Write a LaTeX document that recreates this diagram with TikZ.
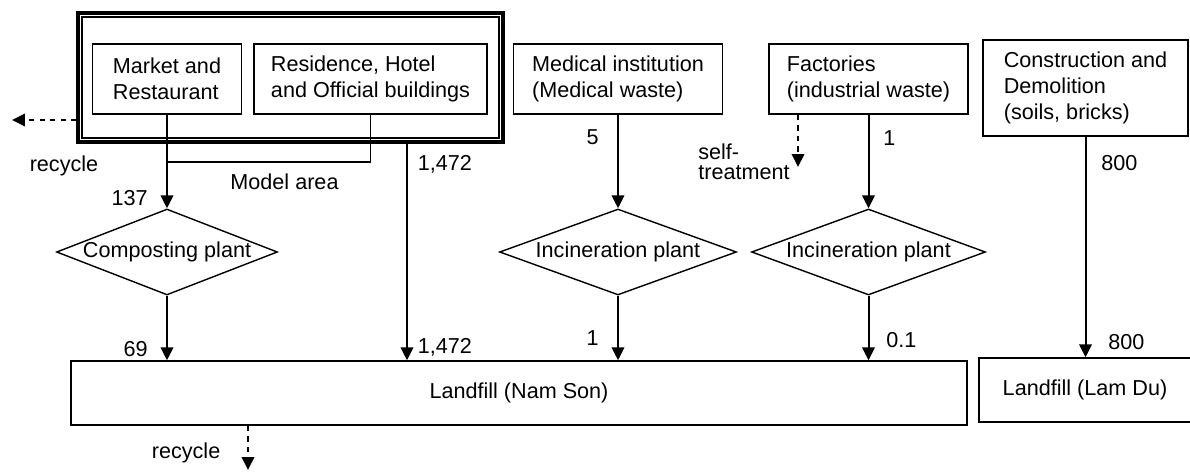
\documentclass[tikz,border=0pt]{standalone}
\usepackage{fontspec}
\setmainfont{Liberation Sans}
\usetikzlibrary{arrows.meta,shapes.geometric}
\begin{document}
\begin{tikzpicture}[x={(0.02cm,0cm)},y={(0cm,-0.02cm)},
        font=\fontsize{12.3}{15}\selectfont,
        >={Triangle[length=0.26cm,width=0.25cm]},
        srcbox/.style={draw,line width=0.8pt,align=left,minimum height=1.4cm},
        sinkbox/.style={draw,line width=0.8pt,minimum height=1.28cm},
        plant/.style={draw,shape=diamond,aspect=2.6,inner sep=0pt,minimum height=1.72cm,line width=0.8pt},
        flow/.style={->,line width=1.15pt},
        dflow/.style={->,dashed,line width=1.1pt},
        num/.style={inner sep=1pt}]
        \useasboundingbox (0,0) rectangle (1190,473);
        \node[draw,line width=1.8pt,minimum width=8.5cm,minimum height=2.58cm] (area) at (290.5,77.5) {};
        \draw[line width=0.7pt] ([shift={(5.5,5.5)}]area.north west) rectangle ([shift={(-5.5,-5.5)}]area.south east);
        \node[srcbox,minimum width=2.98cm] (mkt) at (167,79) {Market and\\Restaurant};
        \node[srcbox,minimum width=4.66cm] (res) at (370.5,79) {Residence, Hotel\\and Official buildings};
        \node[srcbox,minimum width=4.18cm] (med) at (618,79) {Medical institution\\(Medical waste)};
        \node[srcbox,minimum width=3.98cm] (fac) at (868.5,79) {Factories\\(industrial waste)};
        \node[srcbox,minimum width=4.1cm,minimum height=1.92cm] (con) at (1085.5,88) {Construction and\\Demolition\\(soils, bricks)};
        \node[plant,minimum width=4.42cm] (comp) at (167,252) {Composting plant};
        \node[plant,minimum width=4.74cm] (inc1) at (618,252) {Incineration plant};
        \node[plant,minimum width=4.68cm] (inc2) at (868.5,252) {Incineration plant};
        \node[sinkbox,minimum width=17.92cm] (nam) at (519,393) {Landfill (Nam Son)};
        \node[sinkbox,minimum width=4.24cm] (lam) at (1085,390) {Landfill (Lam Du)};
        \node (rcltop) at (64,166) {recycle};
        \node (model) at (284.5,182) {Model area};
        \node[align=left,anchor=west,inner sep=0pt] (selftxt) at (698,162) {self-\\[-3.7pt]treatment};
        \coordinate (mrg) at (167,162);
        \coordinate (rcl) at (12,120);
        \coordinate (selft) at (798,167);
        \coordinate (rclbot) at (248,470);
        \draw[dflow] (area.west |- rcl) -- (rcl);
        \draw[line width=0.9pt] (res.south) |- (mrg);
        \draw[flow] (mkt.south) -- (comp.north) node[num,pos=0.89,left=0.33cm]{137};
        \draw[flow] (area.south -| 407,0) -- (nam.north -| 407,0)
            node[num,pos=0.096,right=0.16cm]{1,472}
            node[num,pos=0.94,right=0.16cm]{1,472};
        \draw[flow] (comp.south) -- (comp.south |- nam.north) node[num,pos=0.83,left=0.33cm]{69};
        \draw[flow] (med.south) -- (inc1.north) node[num,pos=0.24,left=0.33cm]{5};
        \draw[flow] (inc1.south) -- (inc1.south |- nam.north) node[num,pos=0.65,left=0.33cm]{1};
        \draw[dflow] (fac.south -| selft) -- (selft);
        \draw[flow] (fac.south) -- (inc2.north) node[num,pos=0.25,right=0.24cm]{1};
        \draw[flow] (inc2.south) -- (inc2.south |- nam.north) node[num,pos=0.68,right=0.3cm]{0.1};
        \draw[flow] (con.south) -- (con.south |- lam.north)
            node[num,pos=0.12,right=0.26cm]{800}
            node[num,pos=0.93,right=0.4cm]{800};
        \draw[dflow] (nam.south -| rclbot) -- (rclbot) node[num,pos=0.62,left=0.5cm]{recycle};
        \end{tikzpicture}
\end{document}
